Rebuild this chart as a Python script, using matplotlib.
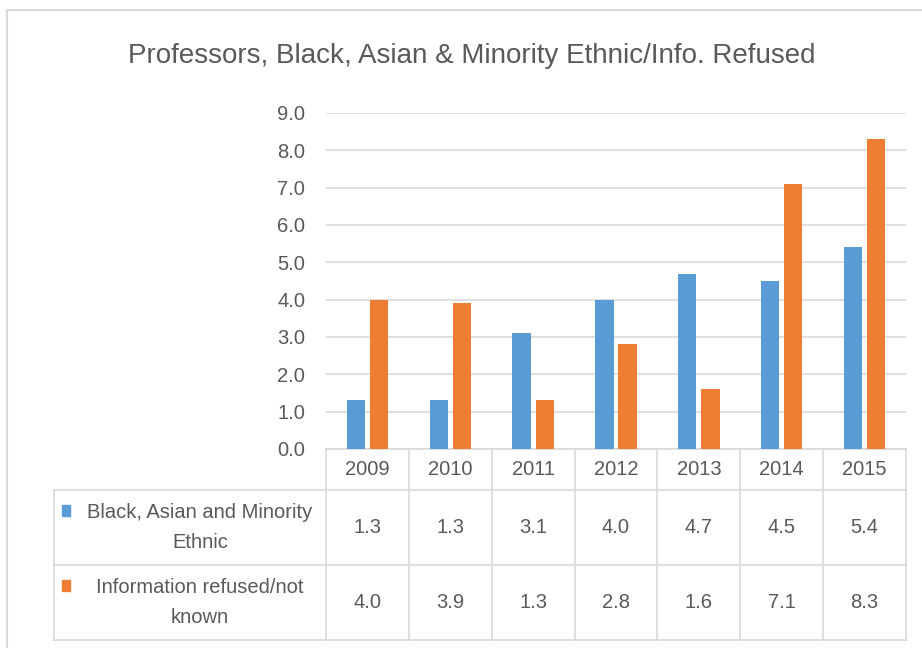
import matplotlib.pyplot as plt
from matplotlib.lines import Line2D
from matplotlib.patches import Rectangle
from matplotlib.transforms import blended_transform_factory

plt.rcParams['font.family'] = ['Liberation Sans', 'DejaVu Sans']

# Data
years = ["2009", "2010", "2011", "2012", "2013", "2014", "2015"]
bame = [1.3, 1.3, 3.1, 4.0, 4.7, 4.5, 5.4]
refused = [4.0, 3.9, 1.3, 2.8, 1.6, 7.1, 8.3]
series_labels = ["Black, Asian and Minority\nEthnic", "Information refused/not\nknown"]
yticks = [0, 1, 2, 3, 4, 5, 6, 7, 8, 9]

BLUE = "#5B9BD5"
ORANGE = "#ED7D31"
TEXT = "#595959"
LINE = "#D9D9D9"
FS = 14.5

W, H = 922, 648
fig = plt.figure(figsize=(W / 100, H / 100), dpi=100)


def fx(px):
    return px / W


def fy(py):
    return 1 - py / H


# outer chart border
fig.add_artist(Line2D([fx(7), 1], [fy(10), fy(10)], color=LINE, lw=1.5, transform=fig.transFigure))
fig.add_artist(Line2D([fx(7), fx(7)], [fy(10), 0], color=LINE, lw=1.5, transform=fig.transFigure))

fig.text(fx(472), fy(56), "Professors, Black, Asian & Minority Ethnic/Info. Refused",
         ha="center", va="center", fontsize=20, color=TEXT)

# bar area
ax = fig.add_axes([fx(326), fy(449), fx(906) - fx(326), fy(113) - fy(449)])
x = list(range(len(years)))
bw = 0.22
ax.bar([i - 0.14 for i in x], bame, width=bw, color=BLUE, zorder=3)
ax.bar([i + 0.14 for i in x], refused, width=bw, color=ORANGE, zorder=3)
ax.set_xlim(-0.5, len(years) - 0.5)
ax.set_ylim(0, 9)
ax.set_yticks(yticks)
ax.set_yticklabels([f"{v:.1f}" for v in yticks], fontsize=FS, color=TEXT)
ax.tick_params(axis="y", length=0, pad=15)
ax.set_xticks([])
ax.grid(axis="y", color=LINE, lw=1.2, zorder=0)
for s in ax.spines.values():
    s.set_visible(False)
ax.spines["bottom"].set_visible(True)
ax.spines["bottom"].set_color(LINE)
ax.spines["bottom"].set_linewidth(1.2)

# data table below the axis
tr = blended_transform_factory(ax.transData, fig.transFigure)
row_px = [449, 490, 565, 640]
row_tops = [fy(p) for p in row_px]
for i in range(len(years) + 1):
    fig.add_artist(Line2D([i - 0.5, i - 0.5], [row_tops[0], row_tops[-1]],
                          color=LINE, lw=1.2, transform=tr))
for r in row_tops[1:]:
    fig.add_artist(Line2D([fx(54), fx(906)], [r, r], color=LINE, lw=1.2, transform=fig.transFigure))
fig.add_artist(Line2D([fx(54), fx(54)], [row_tops[1], row_tops[-1]], color=LINE, lw=1.2,
                      transform=fig.transFigure))

for i, yr in enumerate(years):
    fig.text(i, (row_tops[0] + row_tops[1]) / 2, yr, transform=tr,
             ha="center", va="center", fontsize=FS, color=TEXT)

rows = [bame, refused]
colors = [BLUE, ORANGE]
for k, (vals, lab, c) in enumerate(zip(rows, series_labels, colors)):
    yc_px = (row_px[k + 1] + row_px[k + 2]) / 2
    yc = fy(yc_px)
    for i, v in enumerate(vals):
        fig.text(i, yc, f"{v:.1f}", transform=tr, ha="center", va="center",
                 fontsize=FS, color=TEXT)
    fig.text(fx(200), yc, lab, ha="center", va="center", multialignment="center",
             fontsize=FS, color=TEXT, linespacing=1.75)
    fig.add_artist(Rectangle((fx(62), fy(yc_px - 12)), fx(8), fy(0) - fy(11),
                             color=c, transform=fig.transFigure))

fig.savefig("out.png", dpi=100)
